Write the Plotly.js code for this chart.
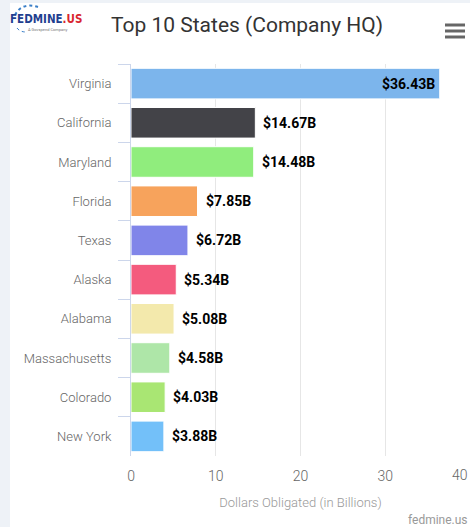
<!DOCTYPE html>
<html>
<head>
<meta charset="utf-8">
<script src="https://cdn.plot.ly/plotly-3.0.1.min.js"></script>
<style>
  html, body { margin: 0; padding: 0; background: #eef2f7; width: 470px; height: 527px; overflow: hidden; }
  #chart { position: absolute; left: 10px; top: 3px; width: 460px; height: 524px; background: #ffffff; }
</style>
</head>
<body>
<div id="chart"></div>
<script>
// ---- data ----
const states = ["Virginia", "California", "Maryland", "Florida", "Texas", "Alaska", "Alabama", "Massachusetts", "Colorado", "New York"];
const obligated = [36.43, 14.67, 14.48, 7.85, 6.72, 5.34, 5.08, 4.58, 4.03, 3.88];
const barColors = ["#7cb5ec", "#434348", "#90ed7d", "#f7a35c", "#8085e9", "#f45b7e", "#f3e9ac", "#aee6a8", "#a9e673", "#73c0f9"];
const xTickVals = [0, 10, 20, 30, 40];
const chartTitle = "Top 10 States (Company HQ)";
const xAxisTitle = "Dollars Obligated (in Billions)";
const creditText = "fedmine.us";

// ---- geometry helpers (div pixels -> paper) ----
const W = 460, H = 524;
const M = { l: 121, r: 0, t: 61, b: 71 };
const PW = W - M.l - M.r, PH = H - M.t - M.b;
const px = x => (x - M.l) / PW;
const py = y => 1 - (y - M.t) / PH;

const fontFam = "Roboto, 'Open Sans', Arial, sans-serif";

// data labels built from the data
const labelAnn = states.map((s, i) => {
  const inside = obligated[i] > 30;
  return {
    x: obligated[i], y: s, xref: "x", yref: "y",
    text: "$" + obligated[i].toFixed(2) + "B",
    showarrow: false,
    xanchor: inside ? "right" : "left",
    xshift: inside ? -3 : 6,
    yanchor: "middle",
    font: { family: fontFam, size: 14, color: "#000000", weight: 700 }
  };
});

const annotations = labelAnn.concat([
  // last x tick label (kept inside the frame)
  { x: 40, y: 0, xref: "x", yref: "paper", yshift: -19, text: "40", showarrow: false,
    xanchor: "right", yanchor: "middle", font: { family: fontFam, size: 14, color: "#666666", weight: 300 } },
  // credit
  { x: px(460), y: py(517), xref: "paper", yref: "paper", text: creditText, showarrow: false,
    xanchor: "right", yanchor: "middle", font: { family: fontFam, size: 12, color: "#999999" } },
  // logo
  { x: px(0), y: py(16), xref: "paper", yref: "paper", showarrow: false, xanchor: "left", yanchor: "middle",
    xshift: -2,
    text: "<span style='color:#1f3f8f'>FEDMINE</span><span style='color:#d9262f'>.US</span>",
    font: { family: "'Liberation Sans Narrow', 'DejaVu Sans Condensed', Arial, sans-serif", size: 11.5, weight: 700 } },
  { x: px(37), y: py(26), xref: "paper", yref: "paper", showarrow: false, xanchor: "center", yanchor: "middle",
    text: "A Govspend Company", font: { family: fontFam, size: 4, color: "#777777" } }
]);

// hamburger icon + logo arc
const shapes = [25, 31, 37].map(y => ({
  type: "line", xref: "paper", yref: "paper",
  x0: px(435), x1: px(455), y0: py(y - 3), y1: py(y - 3),
  line: { color: "#666666", width: 3 }
}));
shapes.push({
  type: "path", xref: "paper", yref: "paper",
  path: `M ${px(5)},${py(12)} Q ${px(12)},${py(-1)} ${px(28)},${py(4)}`,
  line: { color: "#3a7fc8", width: 2, dash: "dot" }
});
shapes.push({
  type: "path", xref: "paper", yref: "paper",
  path: `M ${px(7)},${py(25)} Q ${px(10)},${py(29)} ${px(16)},${py(29)}`,
  line: { color: "#3a7fc8", width: 1, dash: "dot" }
});

const trace = {
  type: "bar",
  orientation: "h",
  x: obligated,
  y: states,
  marker: { color: barColors, line: { color: "#ffffff", width: 1 } },
  hoverinfo: "x+y"
};

const layout = {
  width: W, height: H,
  margin: M,
  paper_bgcolor: "#ffffff",
  plot_bgcolor: "#ffffff",
  showlegend: false,
  bargap: 0.22,
  title: {
    text: chartTitle, xref: "container", yref: "container",
    x: 237 / W, xanchor: "center", y: 1 - 22 / H, yanchor: "middle",
    font: { family: fontFam, size: 21, color: "#333333" }
  },
  xaxis: {
    range: [0, 40], tickvals: xTickVals.slice(0, 4), ticks: "",
    showgrid: true, gridcolor: "#e6e6e6", gridwidth: 1, zeroline: false, showline: false,
    tickfont: { family: fontFam, size: 14, color: "#666666", weight: 300 },
    ticklabelstandoff: 10,
    title: { text: xAxisTitle, standoff: 14, font: { family: fontFam, size: 13, color: "#999999", weight: 300 } },
    fixedrange: true
  },
  yaxis: {
    type: "category", autorange: "reversed",
    showline: true, linecolor: "#ccd6eb", linewidth: 1,
    ticks: "outside", tickson: "boundaries", ticklen: 12, tickcolor: "#ccd6eb", tickwidth: 1,
    showgrid: false, zeroline: false,
    tickfont: { family: fontFam, size: 13, color: "#666666", weight: 300 },
    ticklabelstandoff: 16,
    fixedrange: true
  },
  annotations: annotations,
  shapes: shapes
};

Plotly.newPlot("chart", [trace], layout, { displayModeBar: false, staticPlot: false });
</script>
</body>
</html>
